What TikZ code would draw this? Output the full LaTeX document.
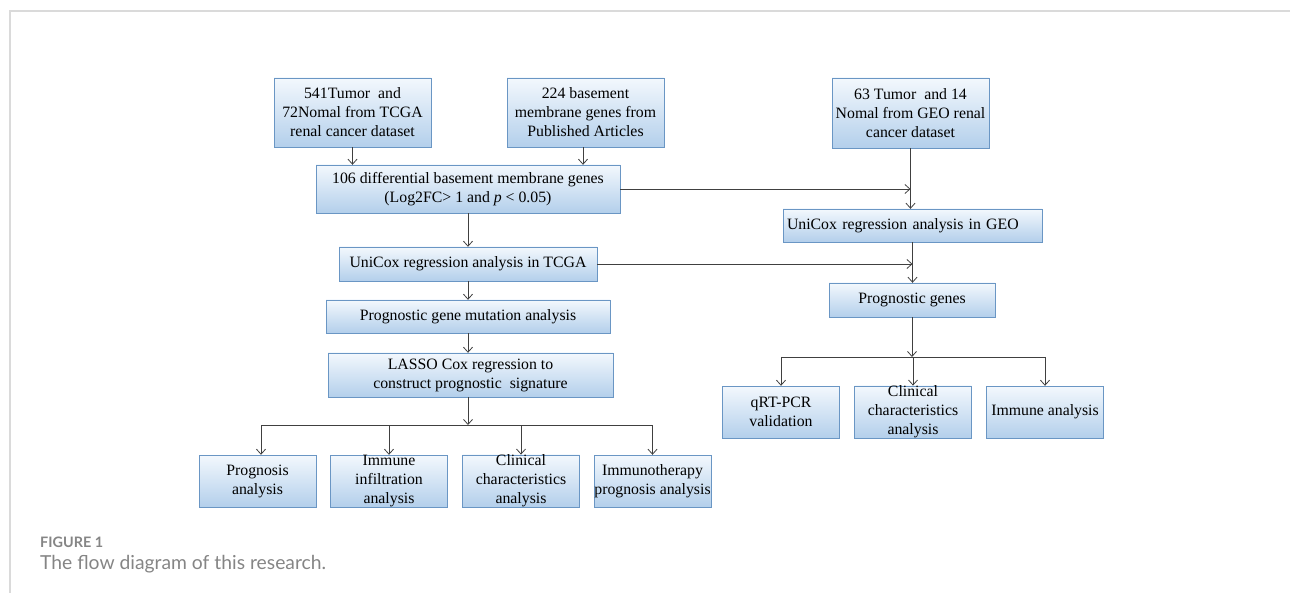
\documentclass[tikz,border=0pt]{standalone}
\usepackage{fontspec}
\setmainfont{Liberation Serif}
\newfontfamily\captionfont{Lato}
\usepackage{tikz}
\usetikzlibrary{arrows.meta}
\usetikzlibrary{calc}

\definecolor{boxline}{HTML}{6A96C4}
\definecolor{boxtop}{HTML}{F3F8FD}
\definecolor{boxbottom}{HTML}{B3CFEB}
\definecolor{framegray}{HTML}{DADADA}
\definecolor{capgray}{HTML}{858585}

\begin{document}
\begin{tikzpicture}[x=1pt,y=-1pt,>={Straight Barb[length=5pt,width=9pt]},thin,
	flow box/.style={draw=boxline,top color=boxtop,bottom color=boxbottom,align=center,inner sep=0pt,font=\fontsize{15.8}{19}\selectfont},
	flow line/.style={draw=black!75,line width=0.8pt},
	leaf box/.style={flow box,minimum width=117,minimum height=52}]

	\useasboundingbox (0,0) rectangle (1290,593);
	\draw[framegray,line width=1.2pt] (10,593) -- (10,11) -- (1290,11);

	% data sources
	\node[flow box,minimum width=157,minimum height=69] (tcga) at (352.5,112.5) {541Tumor~ and\\72Nomal from TCGA\\renal cancer dataset};
	\node[flow box,minimum width=157,minimum height=69] (articles) at (585.5,112.5) {224 basement\\membrane genes from\\Published Articles};
	\node[flow box,minimum width=157,minimum height=70] (geo) at (910.5,113) {63 Tumor~ and 14\\Nomal from GEO renal\\cancer dataset};

	% TCGA branch
	\node[flow box,minimum width=304,minimum height=48] (deg) at (468,189) {106 differential basement membrane genes\\(Log2FC> 1 and \textit{p} < 0.05)};
	\node[flow box,minimum width=258,minimum height=34] (unitcga) at (468,264) {UniCox regression analysis in TCGA};
	\node[flow box,minimum width=284,minimum height=33] (mutation) at (468,316.5) {Prognostic gene mutation analysis};
	\node[flow box,minimum width=285,minimum height=44] (lasso) at (470.5,375) {LASSO Cox regression to\\construct prognostic~ signature};

	\node[leaf box] (prognosis) at (257.5,481) {Prognosis\\analysis};
	\node[leaf box] (infiltration) at (389,481) {Immune\\infiltration\\analysis};
	\node[leaf box] (clinical) at (521,481) {Clinical\\characteristics\\analysis};
	\node[leaf box] (immunotherapy) at (652.5,481) {Immunotherapy\\prognosis analysis};

	% GEO branch
	\node[flow box,minimum width=259,minimum height=33,text width=251,align=left] (unigeo) at (912.5,225.5) {UniCox regression analysis in GEO};
	\node[flow box,minimum width=166,minimum height=34] (genes) at (912,300) {Prognostic genes};

	\node[leaf box] (pcr) at (781,412) {qRT-PCR\\validation};
	\node[leaf box] (geoclinical) at (913,412) {Clinical\\characteristics\\analysis};
	\node[leaf box] (immune) at (1045,412) {Immune analysis};

	\coordinate (lsplit) at (468,425);
	\coordinate (rsplit) at (912,357);

	\path[every edge/.style={draw,flow line,->}]
		(tcga) edge (tcga |- deg.north)
		(articles.south -| 583,0) edge (deg.north -| 583,0)
		(deg.east) edge (geo.south |- deg.east)
		(geo.south) edge (geo.south |- unigeo.north)
		(deg) edge (unitcga)
		(unitcga.east) edge (unigeo.south |- unitcga.east)
		(unigeo.south) edge (unigeo.south |- genes.north)
		(unitcga) edge (mutation)
		(mutation.south) edge (mutation.south |- lasso.north)
		(lasso.south -| lsplit) edge (lsplit)
		(genes.south -| rsplit) edge (rsplit);

	\draw[flow line] (lsplit -| 261,0) -- (lsplit -| immunotherapy);
	\draw[flow line] (rsplit -| pcr) -- (rsplit -| immune);

	\path[every edge/.style={draw,flow line,->}]
		(lsplit -| 261,0) edge (prognosis.north -| 261,0)
		(lsplit -| infiltration) edge (infiltration.north)
		(lsplit -| clinical) edge (clinical.north)
		(lsplit -| immunotherapy) edge (immunotherapy.north)
		(rsplit -| pcr) edge (pcr.north)
		(rsplit -| geoclinical) edge (geoclinical.north)
		(rsplit -| immune) edge (immune.north);

	% caption
	\node[anchor=base west,text=capgray,font=\captionfont\bfseries\fontsize{14.4}{17}\selectfont,inner sep=0pt] (figlabel) at (40,547) {FIGURE 1};
	\node[anchor=base west,text=capgray,font=\captionfont\fontsize{19.3}{22}\selectfont,inner sep=0pt] (figcaption) at (40,569) {The flow diagram of this research.};

\end{tikzpicture}
\end{document}
